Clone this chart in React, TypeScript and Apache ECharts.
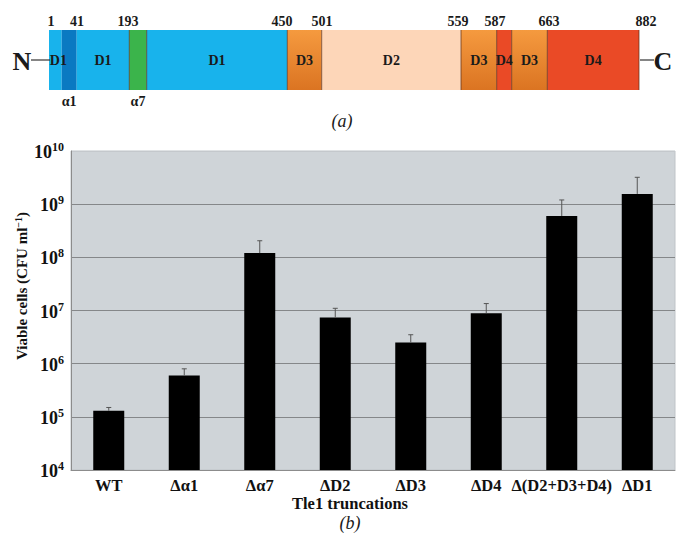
import React, { useEffect, useRef } from 'react';
import * as echarts from 'echarts';

const SERIF = 'Liberation Serif, Times New Roman, serif';

// ---- (b) bar chart data ----
const categories = ['WT', 'Δα1', 'Δα7', 'ΔD2', 'ΔD3', 'ΔD4', 'Δ(D2+D3+D4)', 'ΔD1'];
const viableCells = [1.3e5, 6.0e5, 1.2e8, 7.4e6, 2.5e6, 8.9e6, 6.0e8, 1.56e9];
const errorUpper = [1.5e5, 8.0e5, 2.05e8, 1.1e7, 3.5e6, 1.35e7, 1.2e9, 3.2e9];
const yMin = 1e4;
const yMax = 1e10;

// ---- (a) domain schematic data (schematic units, not to scale) ----
const domainKinds = ['D1', 'α1', 'D1', 'α7', 'D1', 'D3', 'D2', 'D3', 'D4', 'D3', 'D4'];
const domainNames = ['D1', '', 'D1', '', 'D1', 'D3', 'D2', 'D3', 'D4', 'D3', 'D4'];
const domainSubLabels = ['', 'α1', '', 'α7', '', '', '', '', '', '', ''];
const domainStart = [0, 12.7, 27.7, 80.3, 97.7, 238.3, 272.7, 412, 447.7, 462.7, 498.3];
const domainEnd = [12.7, 27.7, 80.3, 97.7, 238.3, 272.7, 412, 447.7, 462.7, 498.3, 590];
const boundaryResidues = [1, 41, 193, 450, 501, 559, 587, 663, 882];
const boundaryPos = [2, 28, 79, 233, 273, 409, 446, 500, 597];

const kindColor: Record<string, any> = {
  D1: '#18b3ec',
  'α1': '#0a79c2',
  'α7': '#3bb44b',
  D2: '#fdd6b8',
  D3: new echarts.graphic.LinearGradient(0, 0, 0, 1, [
    { offset: 0, color: '#f59a3f' },
    { offset: 1, color: '#db7422' },
  ]),
  D4: '#ea4a26',
};
const edgeKinds = ['α7', 'D2', 'D3', 'D4'];

const centered = { align: 'center', verticalAlign: 'middle', textAlign: 'center', textVerticalAlign: 'middle' };

export default function App() {
  const ref = useRef<HTMLDivElement>(null);
  useEffect(() => {
    const chart = echarts.init(ref.current!, null, { renderer: 'svg' });
    const option: any = {
      animation: false,
      grid: [
        {
          left: 71, right: 2, top: 151, bottom: 67, show: true,
          backgroundColor: '#cfd4d8', borderColor: '#bfc4c8', borderWidth: 1,
        },
        { left: 49, width: 590, top: 30, height: 60 },
      ],
      xAxis: [
        {
          type: 'category', gridIndex: 0, data: categories,
          axisLine: { lineStyle: { color: '#8c8c8c', width: 1 } },
          axisTick: { inside: true, length: 4, lineStyle: { color: '#8c8c8c' } },
          axisLabel: {
            interval: 0, margin: 7, fontFamily: SERIF, fontWeight: 'bold',
            fontSize: 16.5, color: '#111',
          },
        },
        { type: 'value', gridIndex: 1, min: 0, max: 590, show: false },
      ],
      yAxis: [
        {
          type: 'log', gridIndex: 0, logBase: 10, min: yMin, max: yMax,
          axisLine: { show: true, lineStyle: { color: '#8c8c8c' } },
          axisTick: { show: false },
          splitLine: {
            lineStyle: {
              color: ['#858789', '#858789', '#858789', '#858789', '#858789', '#858789', '#c4c8cc'],
              width: 1,
            },
          },
          axisLabel: {
            margin: 7,
            formatter: (v: number) => `{b|10}{s|${Math.round(Math.log10(v))}}`,
            rich: {
              b: {
                fontFamily: SERIF, fontWeight: 'bold', fontSize: 18, color: '#111',
                verticalAlign: 'bottom', lineHeight: 20, padding: [10, 0, 0, 0],
              },
              s: {
                fontFamily: SERIF, fontWeight: 'bold', fontSize: 12, color: '#111',
                verticalAlign: 'top', lineHeight: 12,
              },
            },
          },
        },
        { type: 'value', gridIndex: 1, min: 0, max: 1, show: false },
      ],
      series: [
        {
          type: 'bar', xAxisIndex: 0, yAxisIndex: 0, data: viableCells,
          barWidth: 31, itemStyle: { color: '#000' }, z: 2,
        },
        {
          type: 'custom', xAxisIndex: 0, yAxisIndex: 0, z: 3,
          data: categories.map((_, i) => [i, viableCells[i], errorUpper[i]]),
          encode: { x: 0, y: [1, 2] },
          renderItem: (params: any, api: any) => {
            const base = api.coord([api.value(0), api.value(1)]);
            const top = api.coord([api.value(0), api.value(2)]);
            const st = { stroke: '#555', lineWidth: 1 };
            return {
              type: 'group',
              children: [
                { type: 'line', shape: { x1: base[0], y1: base[1], x2: top[0], y2: top[1] }, style: st },
                { type: 'line', shape: { x1: top[0] - 2.5, y1: top[1], x2: top[0] + 2.5, y2: top[1] }, style: st },
              ],
            };
          },
        },
        {
          type: 'custom', xAxisIndex: 1, yAxisIndex: 1, clip: false,
          data: domainStart.map((s, i) => [s, domainEnd[i]]),
          encode: { x: [0, 1] },
          renderItem: (params: any, api: any) => {
            const i = params.dataIndex;
            const tl = api.coord([api.value(0), 1]);
            const br = api.coord([api.value(1), 0]);
            const kind = domainKinds[i];
            const children: any[] = [
              {
                type: 'rect', z2: 0,
                shape: { x: tl[0], y: tl[1], width: br[0] - tl[0], height: br[1] - tl[1] },
                style: { fill: kindColor[kind] },
              },
            ];
            const prev = i > 0 ? domainKinds[i - 1] : '';
            if (edgeKinds.includes(kind) || edgeKinds.includes(prev)) {
              children.push({
                type: 'line', z2: 5,
                shape: { x1: tl[0], y1: tl[1], x2: tl[0], y2: br[1] },
                style: { stroke: 'rgba(90,45,25,0.7)', lineWidth: 1 },
              });
            }
            if (i === domainKinds.length - 1) {
              children.push({
                type: 'line', z2: 5,
                shape: { x1: br[0], y1: tl[1], x2: br[0], y2: br[1] },
                style: { stroke: 'rgba(90,45,25,0.7)', lineWidth: 1 },
              });
            }
            if (domainNames[i]) {
              children.push({
                type: 'text', z2: 10,
                x: (tl[0] + br[0]) / 2 + (i === 0 ? 3 : 0),
                y: (tl[1] + br[1]) / 2,
                style: {
                  text: domainNames[i], fill: '#1a1a1a',
                  font: `bold 14px ${SERIF}`,
                  ...centered,
                },
              });
            }
            if (domainSubLabels[i]) {
              children.push({
                type: 'text', z2: 10,
                x: (tl[0] + br[0]) / 2,
                y: br[1] + 11,
                style: {
                  text: domainSubLabels[i], fill: '#1a1a1a',
                  font: `bold 14px ${SERIF}`,
                  ...centered,
                },
              });
            }
            return { type: 'group', children };
          },
        },
        {
          type: 'custom', xAxisIndex: 1, yAxisIndex: 1, clip: false,
          data: boundaryPos.map((p, i) => [p, boundaryResidues[i]]),
          encode: { x: 0 },
          renderItem: (params: any, api: any) => {
            const pt = api.coord([api.value(0), 1]);
            return {
              type: 'text',
              x: pt[0],
              y: pt[1] - 9,
              style: {
                text: String(api.value(1)), fill: '#1a1a1a',
                font: `bold 14px ${SERIF}`,
                ...centered,
              },
            };
          },
        },
      ],
      graphic: [
        {
          type: 'text', x: 22, y: 61, z: 100,
          style: { text: 'N', font: `bold 26px ${SERIF}`, fill: '#1a1a1a', ...centered },
        },
        { type: 'line', z: 100, shape: { x1: 31, y1: 60, x2: 50, y2: 60 }, style: { stroke: '#333', lineWidth: 1.2 } },
        { type: 'line', z: 100, shape: { x1: 640, y1: 60, x2: 654, y2: 60 }, style: { stroke: '#333', lineWidth: 1.2 } },
        {
          type: 'text', x: 663, y: 61,
          style: { text: 'C', font: `bold 26px ${SERIF}`, fill: '#1a1a1a', ...centered },
        },
        {
          type: 'text', x: 342, y: 121,
          style: { text: '(a)', font: `italic 18px ${SERIF}`, fill: '#1a1a1a', ...centered },
        },
        {
          type: 'text', x: 350, y: 503,
          style: { text: 'Tle1 truncations', font: `bold 16.5px ${SERIF}`, fill: '#111', ...centered },
        },
        {
          type: 'text', x: 350, y: 523,
          style: { text: '(b)', font: `italic 18px ${SERIF}`, fill: '#1a1a1a', ...centered },
        },
        {
          type: 'text', x: 21, y: 286, rotation: Math.PI / 2,
          style: {
            text: '{n|Viable cells (CFU ml}{s|−1}{n|)}',
            ...centered,
            rich: {
              n: { fontFamily: SERIF, fontWeight: 'bold', fontSize: 15, fill: '#111', color: '#111', verticalAlign: 'bottom', lineHeight: 16 },
              s: { fontFamily: SERIF, fontWeight: 'bold', fontSize: 10, fill: '#111', color: '#111', verticalAlign: 'top', lineHeight: 10 },
            },
          },
        },
      ],
    };
    chart.setOption(option);
    return () => chart.dispose();
  }, []);
  return <div ref={ref} style={{ width: 677, height: 537, position: 'absolute', left: 0, top: 0 }} />;
}
